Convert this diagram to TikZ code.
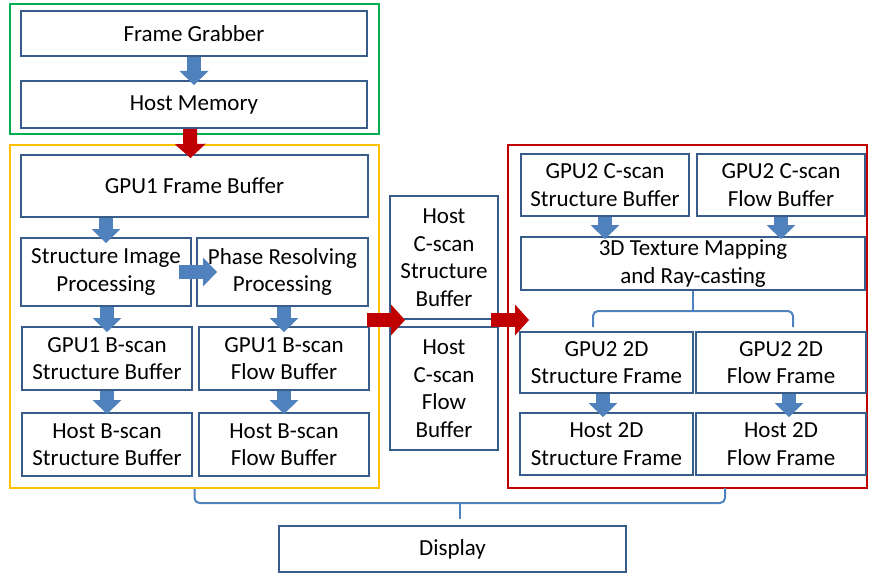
\documentclass[tikz,border=0pt]{standalone}
\usepackage{fontspec}
\setsansfont{Carlito}
\usetikzlibrary{arrows.meta}

\definecolor{boxblue}{RGB}{56,93,138}
\definecolor{arrowblue}{RGB}{79,129,189}
\definecolor{darkred}{RGB}{192,0,0}
\definecolor{grpgreen}{RGB}{0,176,80}
\definecolor{grpyellow}{RGB}{255,192,0}

\begin{document}
\begin{tikzpicture}[
  x=1pt, y=-1pt,
  font=\sffamily\fontsize{23}{27.5}\selectfont,
  box/.style={draw=boxblue, line width=2pt, align=center, inner sep=0pt, fill=white},
  group/.style={draw, line width=2pt, inner sep=0pt},
  flow/.style={-{Triangle[width=29pt, length=14pt, line width=0pt]}, line width=14pt, draw=arrowblue},
  hostlink/.style={-{Triangle[width=31pt, length=14pt, line width=0pt]}, line width=14pt, draw=darkred},
  brace/.style={draw=arrowblue, line width=2pt, rounded corners=5pt}
]
\useasboundingbox (0,0) rectangle (870,575);

% groups
\node[group, draw=grpgreen, minimum width=369pt, minimum height=130pt] (capgrp) at (194.5,69) {};
\node[group, draw=grpyellow, minimum width=369pt, minimum height=343pt] (gpu1grp) at (194.5,316.5) {};
\node[group, draw=darkred, minimum width=359pt, minimum height=343pt] (gpu2grp) at (687.5,316.5) {};

% capture
\node[box, minimum width=346pt, minimum height=45pt] (grab) at (194,33.5) {Frame Grabber};
\node[box, minimum width=346pt, minimum height=47pt] (hmem) at (194,104.5) {Host Memory};

% GPU1
\node[box, minimum width=347pt, minimum height=62pt] (fbuf) at (194.5,186) {GPU1 Frame Buffer};
\node[box, minimum width=170pt, minimum height=68pt] (sproc) at (106,272) {Structure Image\\Processing};
\node[box, minimum width=171pt, minimum height=68pt] (pproc) at (282.5,272) {Phase Resolving\\Processing};
\node[box, minimum width=170pt, minimum height=63pt] (gbs) at (107,358.5) {GPU1 B-scan\\Structure Buffer};
\node[box, minimum width=170pt, minimum height=63pt] (gbf) at (284,358.5) {GPU1 B-scan\\Flow Buffer};
\node[box, minimum width=170pt, minimum height=63pt] (hbs) at (107,444.5) {Host B-scan\\Structure Buffer};
\node[box, minimum width=170pt, minimum height=63pt] (hbf) at (284,444.5) {Host B-scan\\Flow Buffer};

% host C-scan
\node[box, minimum width=108pt, minimum height=123pt] (hcs) at (444,257.5) {Host\\C-scan\\Structure\\Buffer};
\node[box, minimum width=108pt, minimum height=123pt] (hcf) at (444,388.5) {Host\\C-scan\\Flow\\Buffer};

% GPU2
\node[box, minimum width=168pt, minimum height=62pt] (gcs) at (605,185) {GPU2 C-scan\\Structure Buffer};
\node[box, minimum width=168pt, minimum height=62pt] (gcf) at (781,185) {GPU2 C-scan\\Flow Buffer};
\node[box, minimum width=344pt, minimum height=53pt] (tex) at (693,263.5) {3D Texture Mapping\\and Ray-casting};
\node[box, minimum width=173pt, minimum height=61pt] (g2s) at (606.5,362.5) {GPU2 2D\\Structure Frame};
\node[box, minimum width=170pt, minimum height=61pt] (g2f) at (781,362.5) {GPU2 2D\\Flow Frame};
\node[box, minimum width=173pt, minimum height=62pt] (h2s) at (606.5,444) {Host 2D\\Structure Frame};
\node[box, minimum width=170pt, minimum height=62pt] (h2f) at (781,444) {Host 2D\\Flow Frame};

\node[box, minimum width=347pt, minimum height=46pt] (disp) at (452.5,549) {Display};

% block arrows
\draw[flow] (grab.south) -- ([yshift=-5pt]hmem.north);
\draw[flow] (fbuf.south -| sproc) -- ([yshift=-6pt]sproc.north);
\draw[flow] ([xshift=-13pt]sproc.east) -- ([xshift=21pt]pproc.west);
\draw[flow] (sproc.south -| gbs) -- ([yshift=-6pt]gbs.north);
\draw[flow] (pproc.south -| gbf) -- ([yshift=-6pt]gbf.north);
\draw[flow] (gbs.south) -- ([yshift=-2pt]hbs.north);
\draw[flow] (gbf.south) -- ([yshift=-2pt]hbf.north);
\draw[flow] (gcs.south) -- ([yshift=-3pt]tex.north -| gcs);
\draw[flow] (gcf.south) -- ([yshift=-3pt]tex.north -| gcf);
\draw[flow] ([xshift=-3.5pt]g2s.south) -- ([xshift=-3.5pt, yshift=-5pt]h2s.north);
\draw[flow] ([xshift=8pt]g2f.south) -- ([xshift=8pt, yshift=-5pt]h2f.north);

% transfers
\coordinate (mid) at (444,320);
\draw[hostlink] ([xshift=-4pt]hmem.south) -- ([xshift=-4pt, yshift=-4pt]fbuf.north);
\draw[hostlink] ([xshift=-13pt]gpu1grp.east |- mid) -- ([xshift=16pt]hcs.west |- mid);
\draw[hostlink] ([xshift=-8pt]hcs.east |- mid) -- ([xshift=22pt]gpu2grp.west |- mid);

% braces
\coordinate (bl) at (593,327);
\coordinate (br) at (793,327);
\draw[brace] (bl) |- ([yshift=-20pt]tex.south) -| (br);
\draw[brace] (tex.south) -- ++(0,20);
\coordinate (rb) at (725,488);
\coordinate (tip) at (459.5,503);
\draw[brace] (gpu1grp.south) |- (tip) -| (rb);
\draw[brace] (tip) -- ([yshift=6pt]disp.north -| tip);

\end{tikzpicture}
\end{document}
